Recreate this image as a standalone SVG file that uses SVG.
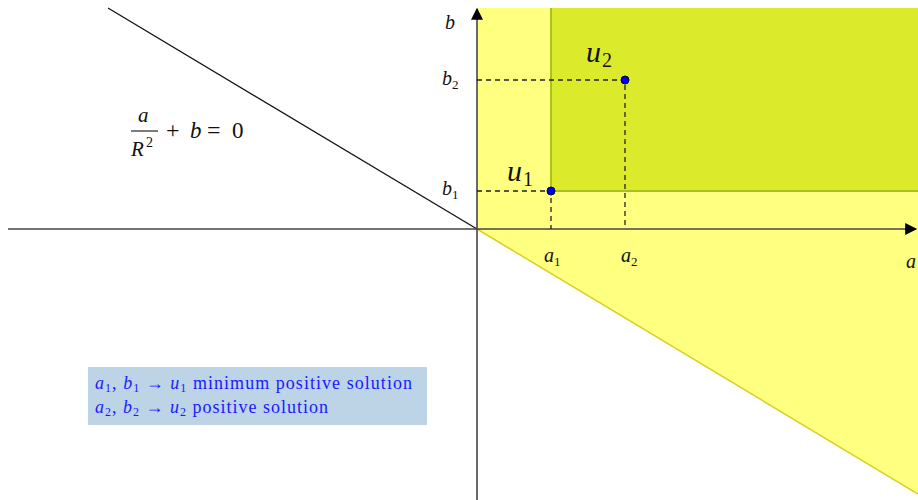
<svg xmlns="http://www.w3.org/2000/svg" width="918" height="500" viewBox="0 0 918 500">
<defs>
<marker id="ah2" viewBox="0 0 10 10" refX="9" refY="5" markerWidth="14" markerHeight="12" markerUnits="userSpaceOnUse" orient="auto">
<path d="M0,0 L10,5 L0,10 z" fill="#000"/>
</marker>
</defs>
<rect width="918" height="500" fill="#fff"/>
<g id="regions">
<polygon points="477,8 918,8 918,494 477,229" fill="#ffff80"/>
<line x1="477" y1="229" x2="918" y2="494" stroke="#d8d020" stroke-width="1.5"/>
<rect x="551" y="8" width="367" height="183" fill="#dbeb2b"/>
<polyline points="551,8 551,191 918,191" fill="none" stroke="#a8c21c" stroke-width="2"/>
</g>
<g id="connectors" fill="none">
<line x1="108" y1="8" x2="477" y2="229" stroke="#111" stroke-width="1.3"/>
<line x1="8" y1="229" x2="916" y2="229" stroke="#444" stroke-width="1.6" marker-end="url(#ah2)"/>
<line x1="477" y1="500" x2="477" y2="9" stroke="#444" stroke-width="1.6" marker-end="url(#ah2)"/>
<g stroke="#222" stroke-width="1.3" stroke-dasharray="5,4">
<polyline points="477,191 551,191 551,229"/>
<polyline points="477,80 625,80 625,229"/>
</g>
</g>
<g id="u1">
<circle cx="551" cy="191" r="4" fill="#0000ee" stroke="#000033"/>
<text font-family="Liberation Serif" font-style="italic" fill="#111" x="507" y="181" font-size="30">u</text>
<text font-family="Liberation Serif" fill="#111" x="523" y="186" font-size="20">1</text>
</g>
<g id="u2">
<circle cx="625" cy="80" r="4" fill="#0000ee" stroke="#000033"/>
<text font-family="Liberation Serif" font-style="italic" fill="#111" x="586" y="62" font-size="30">u</text>
<text font-family="Liberation Serif" fill="#111" x="602" y="67" font-size="20">2</text>
</g>
<g id="labels">
<text font-family="Liberation Serif" font-style="italic" fill="#111" x="445" y="29" font-size="20">b</text>
<text font-family="Liberation Serif" font-style="italic" fill="#111" x="442" y="85" font-size="20">b</text>
<text font-family="Liberation Serif" fill="#111" x="452" y="89" font-size="13">2</text>
<text font-family="Liberation Serif" font-style="italic" fill="#111" x="442" y="195" font-size="20">b</text>
<text font-family="Liberation Serif" fill="#111" x="452" y="199" font-size="13">1</text>
<text font-family="Liberation Serif" font-style="italic" fill="#111" x="544" y="262" font-size="20">a</text>
<text font-family="Liberation Serif" fill="#111" x="554" y="266" font-size="13">1</text>
<text font-family="Liberation Serif" font-style="italic" fill="#111" x="621" y="262" font-size="20">a</text>
<text font-family="Liberation Serif" fill="#111" x="631" y="266" font-size="13">2</text>
<text font-family="Liberation Serif" font-style="italic" fill="#111" x="906" y="268" font-size="20">a</text>
</g>
<g id="formula">
<text font-family="Liberation Serif" font-style="italic" fill="#111" x="138" y="122" font-size="21">a</text>
<line x1="131" y1="131" x2="158" y2="131" stroke="#111" stroke-width="1.1"/>
<text font-family="Liberation Serif" font-style="italic" fill="#111" x="131" y="156" font-size="21">R</text>
<text font-family="Liberation Serif" fill="#111" x="146" y="147" font-size="14">2</text>
<text font-family="Liberation Serif" fill="#111" x="166" y="138" font-size="24">+</text>
<text font-family="Liberation Serif" font-style="italic" fill="#111" x="190" y="138" font-size="23">b</text>
<text font-family="Liberation Serif" fill="#111" x="207" y="138" font-size="24">=</text>
<text font-family="Liberation Serif" fill="#111" x="232" y="138" font-size="23">0</text>
</g>
<g id="legend">
<rect x="88" y="367" width="339" height="58" fill="#bcd4e6"/>
<text font-family="Liberation Serif" font-size="18" fill="#1a1aff" x="95" y="389" textLength="317" lengthAdjust="spacing"><tspan font-style="italic">a</tspan><tspan font-size="12" dy="3">1</tspan><tspan dy="-3">, </tspan><tspan font-style="italic">b</tspan><tspan font-size="12" dy="3">1</tspan><tspan dy="-3"> → </tspan><tspan font-style="italic">u</tspan><tspan font-size="12" dy="3">1</tspan><tspan dy="-3">  minimum positive solution</tspan></text>
<text font-family="Liberation Serif" font-size="18" fill="#1a1aff" x="95" y="413" textLength="233" lengthAdjust="spacing"><tspan font-style="italic">a</tspan><tspan font-size="12" dy="3">2</tspan><tspan dy="-3">, </tspan><tspan font-style="italic">b</tspan><tspan font-size="12" dy="3">2</tspan><tspan dy="-3"> → </tspan><tspan font-style="italic">u</tspan><tspan font-size="12" dy="3">2</tspan><tspan dy="-3">  positive solution</tspan></text>
</g>
</svg>
